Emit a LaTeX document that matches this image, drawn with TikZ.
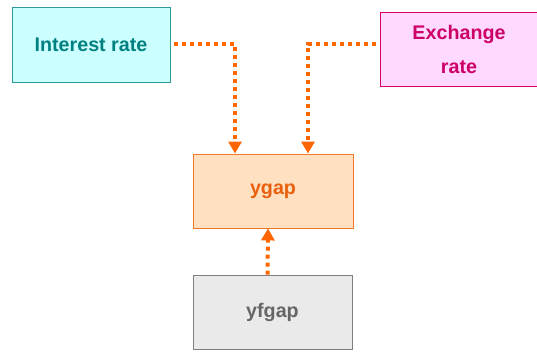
\documentclass[tikz,border=0pt]{standalone}
\usepackage{fontspec}
\setmainfont{Liberation Sans}
\usetikzlibrary{arrows.meta}
\definecolor{tealtxt}{HTML}{008080}
\definecolor{tealfill}{HTML}{CCFFFF}
\definecolor{tealdraw}{HTML}{2E9B9B}
\definecolor{pinktxt}{HTML}{CC0066}
\definecolor{pinkfill}{HTML}{FFD9FF}
\definecolor{pinkdraw}{HTML}{D6006B}
\definecolor{orgtxt}{HTML}{E8600E}
\definecolor{orgfill}{HTML}{FFE0C1}
\definecolor{orgdraw}{HTML}{F07A28}
\definecolor{graytxt}{HTML}{666666}
\definecolor{grayfill}{HTML}{EAEAEA}
\definecolor{graydraw}{HTML}{7F7F7F}
\definecolor{conn}{HTML}{FF6600}
\tikzset{
  box/.style={rectangle, line width=0.9pt, inner sep=0pt, align=center,
    font=\fontsize{19.7}{34}\selectfont\bfseries},
  conline/.style={draw=conn, line width=4pt, dash pattern=on 4pt off 4pt,
    -{Triangle[width=13pt,length=12pt]}, shorten >=0pt},
}
\begin{document}
\begin{tikzpicture}[x=1pt,y=-1pt]
\useasboundingbox (0,0) rectangle (537,352);
\node[box, fill=tealfill, draw=tealdraw, text=tealtxt, minimum width=158pt, minimum height=75pt] (ir) at (91,44.5) {Interest rate};
\node[box, fill=pinkfill, draw=pinkdraw, text=pinktxt, minimum width=158pt, minimum height=74pt] (er) at (459,49) {Exchange\\rate};
\node[box, fill=orgfill, draw=orgdraw, text=orgtxt, minimum width=160pt, minimum height=74pt] (yg) at (273,191) {ygap};
\node[box, fill=grayfill, draw=graydraw, text=graytxt, minimum width=159pt, minimum height=74pt] (yf) at (272.5,312) {yfgap};
\coordinate (c1) at (235,44);
\coordinate (c2) at (308,44);
\draw[conline] ([xshift=4pt]ir.east |- c1) -- (c1) -- (c1 |- yg.north);
\draw[conline] ([xshift=-4pt]er.west |- c2) -- (c2) -- (c2 |- yg.north);
\draw[conline] ([xshift=-5pt]yf.north) -- ([xshift=-5pt]yg.south);
\end{tikzpicture}
\end{document}
